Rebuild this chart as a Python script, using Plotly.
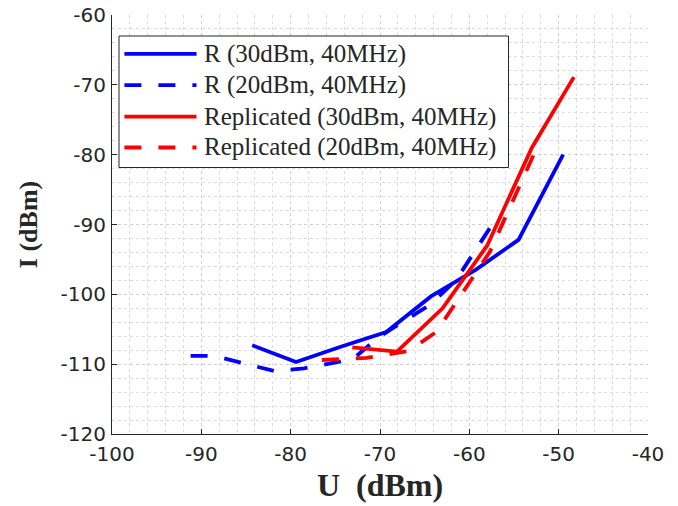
import plotly.graph_objects as go

# Data
r30_x = [-84.3, -79.4, -74.4, -69.3, -64.3, -59.3, -54.5, -49.5]
r30_y = [-107.3, -109.7, -107.5, -105.4, -100.3, -96.5, -92.2, -80.0]

r20_x = [-91.2, -88.6, -81.8, -78.5, -74.4, -72.8, -70.0, -64.4, -61.5, -57.7]
r20_y = [-108.8, -108.8, -111.0, -110.6, -109.6, -109.0, -106.0, -101.5, -98.0, -90.5]

rep30_x = [-73.1, -68.1, -63.0, -58.0, -53.0, -48.3]
rep30_y = [-107.6, -108.2, -102.0, -93.0, -79.0, -68.9]

rep20_x = [-76.5, -71.5, -66.8, -63.7, -57.7, -52.8]
rep20_y = [-109.4, -109.1, -108.1, -105.4, -93.9, -80.0]

names = ["R (30dBm, 40MHz)", "R (20dBm, 40MHz)",
         "Replicated (30dBm, 40MHz)", "Replicated (20dBm, 40MHz)"]

x_ticks = [-100, -90, -80, -70, -60, -50, -40]
y_ticks = [-120, -110, -100, -90, -80, -70, -60]

BLUE = "#0000ff"
RED = "#ff0000"
DASH = "17px,17px"
LW = 3.8
colors = [BLUE, BLUE, RED, RED]
dashes = ["solid", DASH, "solid", DASH]

# the page body margin is removed (post_script), so the figure fills the window
W, H = 678, 506
ML, MR, MT, MB = 112, 30, 15, 72
PW, PH = W - ML - MR, H - MT - MB

fig = go.Figure()
series = [(r30_x, r30_y), (r20_x, r20_y), (rep30_x, rep30_y), (rep20_x, rep20_y)]
for (xs, ys), nm, c, d in zip(series, names, colors, dashes):
    fig.add_trace(go.Scatter(x=xs, y=ys, mode="lines", name=nm, showlegend=False,
                             line=dict(color=c, width=LW, dash=d)))

axis_common = dict(
    showline=True, linecolor="#262626", linewidth=1,
    ticks="inside", ticklen=5, tickcolor="#262626", tickwidth=1,
    showgrid=True, gridcolor="#d0d0d0", griddash="dot", gridwidth=1,
    minor=dict(dtick=2, showgrid=True, gridcolor="#dcdcdc", griddash="dot", gridwidth=1),
    tickfont=dict(family="DejaVu Sans", size=20, color="#262626"),
    zeroline=False, mirror=False, automargin=False, ticklabeloverflow="allow",
)

fig.update_xaxes(range=[-100, -40], tickvals=x_ticks, ticktext=[str(v) for v in x_ticks],
                 ticklabelstandoff=2,
                 title=dict(text="<b>U\u2002(dBm)</b>",
                            font=dict(family="Liberation Serif", size=32, color="#262626"),
                            standoff=8),
                 **axis_common)
fig.update_yaxes(range=[-120, -60], tickvals=y_ticks, ticktext=[str(v) for v in y_ticks],
                 ticklabelstandoff=1,
                 title=dict(text="<b>I (dBm)</b>",
                            font=dict(family="Liberation Serif", size=26, color="#262626"),
                            standoff=15),
                 **axis_common)

# Legend drawn as a framed box (page pixels converted to paper coords)
def px2paper_x(px):
    return (px - ML) / PW

def px2paper_y(py):
    return (H - MB - py) / PH

box_l, box_t, box_r, box_b = 119, 36, 508.5, 167.5
row_y = [53.8, 85.2, 116.6, 147.5]
line_x0, line_x1, text_x = 124.4, 196.5, 201.5

shapes = [dict(type="rect", xref="paper", yref="paper", layer="above",
               x0=px2paper_x(box_l), x1=px2paper_x(box_r),
               y0=px2paper_y(box_b), y1=px2paper_y(box_t),
               line=dict(color="#262626", width=1), fillcolor="white")]
annotations = []
for ry, nm, c, d in zip(row_y, names, colors, dashes):
    shapes.append(dict(type="line", xref="paper", yref="paper", layer="above",
                       x0=px2paper_x(line_x0), x1=px2paper_x(line_x1),
                       y0=px2paper_y(ry), y1=px2paper_y(ry),
                       line=dict(color=c, width=LW, dash=d)))
    annotations.append(dict(xref="paper", yref="paper", x=px2paper_x(text_x), y=px2paper_y(ry),
                            xanchor="left", yanchor="middle", showarrow=False, text=nm,
                            font=dict(family="Liberation Serif", size=25, color="#262626")))

fig.update_layout(
    width=W, height=H,
    margin=dict(l=ML, r=MR, t=MT, b=MB),
    paper_bgcolor="white", plot_bgcolor="white",
    showlegend=False,
    shapes=shapes, annotations=annotations,
)

fig.write_html("out.html",
               config={"displayModeBar": False},
               post_script="document.body.style.margin='0px';document.body.style.overflow='hidden';")
